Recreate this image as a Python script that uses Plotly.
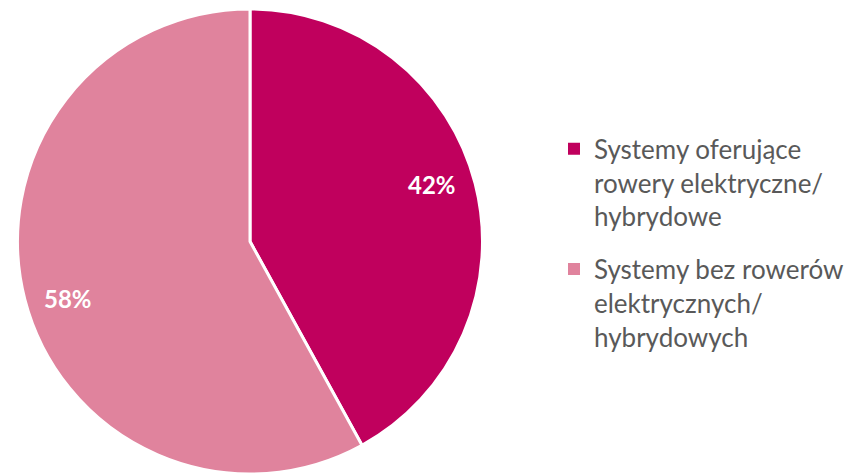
import math
import plotly.graph_objects as go

labels = ["Systemy oferujące<br>rowery elektryczne/<br>hybrydowe",
          "Systemy bez rowerów<br>elektrycznych/<br>hybrydowych"]
values = [42, 58]
colors = ["#C0005D", "#E0839D"]

W, H = 858, 474
T, B = 9, 0
cx = 250
r = (H - T - B) / 2
cy = T + r
dx0 = (cx - r) / W
dx1 = (cx + r) / W

LABEL_RADIUS = 0.82
LABEL_ANGLE_SHIFT = -3.0

fig = go.Figure()
fig.add_trace(go.Pie(
    labels=labels,
    values=values,
    sort=False,
    direction="clockwise",
    rotation=0,
    marker=dict(colors=colors, line=dict(color="white", width=3)),
    textinfo="none",
    domain=dict(x=[dx0, dx1], y=[0, 1]),
    hoverinfo="label+percent",
    showlegend=False,
))

# legend entries (one per slice) so the item gap can match the reference
for i, (lab, col) in enumerate(zip(labels, colors)):
    fig.add_trace(go.Scatter(
        x=[None], y=[None], mode="markers", name=lab,
        marker=dict(symbol="square", size=12, color=col),
        legendgroup=f"g{i}", showlegend=True, hoverinfo="skip",
    ))

# percentage labels placed at the slice mid-angle
total = sum(values)
cum = 0
for v in values:
    mid = (cum + v / 2) / total * 360 + LABEL_ANGLE_SHIFT
    cum += v
    px = cx + LABEL_RADIUS * r * math.sin(math.radians(mid))
    py = cy - LABEL_RADIUS * r * math.cos(math.radians(mid))
    fig.add_annotation(
        x=px / W, y=(H - B - py) / (H - T - B), xref="paper", yref="paper",
        text=f"<b>{round(v / total * 100)}%</b>", showarrow=False,
        font=dict(color="white", size=24, family="Lato"),
        xanchor="center", yanchor="middle",
    )

fig.update_layout(
    width=W, height=H,
    margin=dict(l=0, r=0, t=T, b=B),
    paper_bgcolor="white",
    plot_bgcolor="white",
    font=dict(family="Lato", color="#595959"),
    xaxis=dict(visible=False),
    yaxis=dict(visible=False),
    legend=dict(
        x=554 / W, xanchor="left",
        y=0.75, yanchor="top",
        font=dict(size=26, color="#595959", family="Lato"),
        bgcolor="rgba(0,0,0,0)",
        valign="top",
        tracegroupgap=16,
        itemclick=False,
    ),
    showlegend=True,
)

fig.write_html("out.html")
